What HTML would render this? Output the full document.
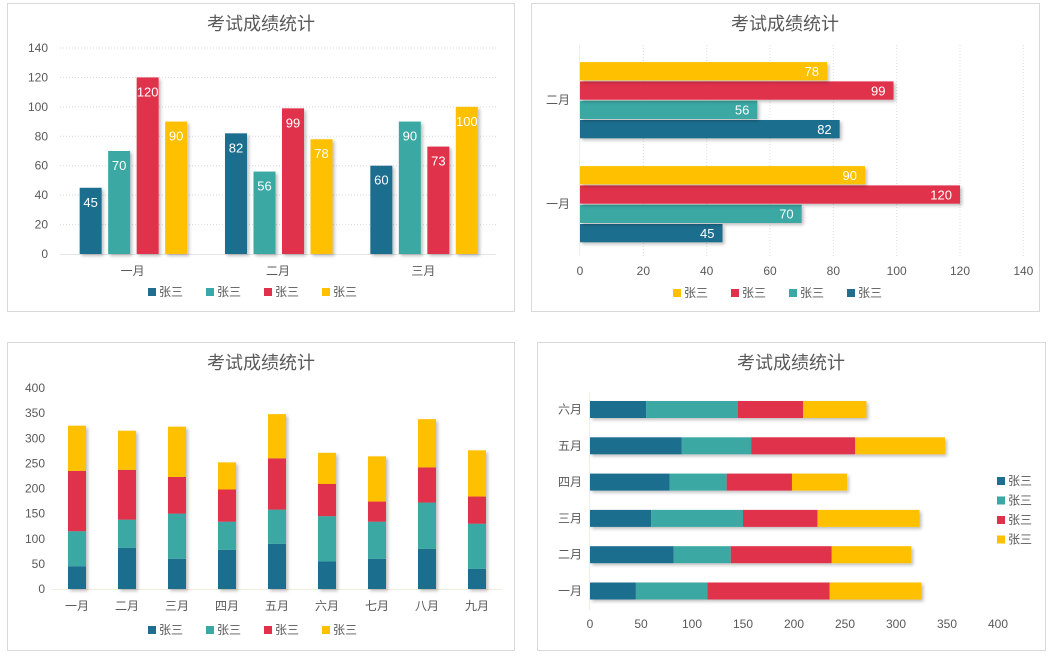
<!DOCTYPE html>
<html><head><meta charset="utf-8">
<style>
body{margin:0;width:1049px;height:658px;background:#fff;font-family:"Liberation Sans","Noto Sans CJK SC",sans-serif;overflow:hidden}
svg{position:absolute;left:0;top:0}
text{font-family:"Liberation Sans","Noto Sans CJK SC",sans-serif}
</style></head><body>
<svg id="s" width="1049" height="658">
<defs>
<filter id="sh" x="-20%" y="-20%" width="150%" height="150%"><feDropShadow dx="2" dy="2" stdDeviation="1.5" flood-color="#000" flood-opacity="0.25"/></filter>
</defs>
</svg>
<script>
const colors=['#1f6e8f','#3aa8a4','#e0314b','#ffc000'];
const seriesNames=['张三','张三','张三','张三'];
const c1Cats=['一月','二月','三月'];
const c1S1=[45,82,60];
const c1S2=[70,56,90];
const c1S3=[120,99,73];
const c1S4=[90,78,100];
const c1Ticks=[0,20,40,60,80,100,120,140];
const c2Cats=['一月','二月'];
const c2S1=[45,82];
const c2S2=[70,56];
const c2S3=[120,99];
const c2S4=[90,78];
const c2Ticks=[0,20,40,60,80,100,120,140];
const c3Cats=['一月','二月','三月','四月','五月','六月','七月','八月','九月'];
const c3S1=[45,82,60,78,90,55,60,80,40];
const c3S2=[70,56,90,56,68,90,74,92,90];
const c3S3=[120,99,73,64,102,64,40,70,54];
const c3S4=[90,78,100,54,88,62,90,96,92];
const c3Ticks=[0,50,100,150,200,250,300,350,400];
const c4Cats=['一月','二月','三月','四月','五月','六月'];
const c4S1=[45,82,60,78,90,55];
const c4S2=[70,56,90,56,68,90];
const c4S3=[120,99,73,64,102,64];
const c4S4=[90,78,100,54,88,62];
const c4Ticks=[0,50,100,150,200,250,300,350,400];

const S=document.getElementById('s');
const NS='http://www.w3.org/2000/svg';
function mk(t,a,p){const e=document.createElementNS(NS,t);for(const k in a)e.setAttribute(k,a[k]);(p||S).appendChild(e);return e;}
function txt(x,y,s,a,p){const e=mk('text',Object.assign({x:x,y:y,'font-size':12,fill:'#595959'},a),p);e.textContent=s;return e;}
function panel(x,y,w,h,name,title,tx,ty){
  const g=mk('g',{});
  
  
  const r=mk('rect',{x:x+.5,y:y+.5,width:w,height:h,fill:'#fff',stroke:'#d9d9d9'},g);
  
  
  const t=txt(tx,ty,title,{'font-size':18,'text-anchor':'middle',fill:'#595959'},g);
  
  
  return g;
}
function legendH(g,cx,y,order){
  const w=58,x0=cx-w*order.length/2;
  order.forEach((si,i)=>{
    const lg=mk('g',{},g);
    
    
    mk('rect',{x:x0+i*w+4,y:y-8,width:8,height:8,fill:colors[si]},lg);
    txt(x0+i*w+15,y,seriesNames[si],{},lg);
  });
}
// Chart 1
(function(){
  const g=panel(7,3,507,308,'chart-monthly-scores-columns','考试成绩统计',261,30);
  const y0=254,k=(254-48)/140,x0=60,x1=496;
  const Y=v=>y0-v*k;
  c1Ticks.forEach(t=>{
    if(t>0){const l=mk('line',{x1:x0,x2:x1,y1:Y(t),y2:Y(t),stroke:'#d9d9d9','stroke-dasharray':'1,2'},g);}
    const tl=txt(48,Y(t)+4,t,{'text-anchor':'end'},g);
    
    
  });
  mk('line',{x1:x0,x2:x1,y1:y0+.5,y2:y0+.5,stroke:'#e5e5e5'},g);
  const data=[c1S1,c1S2,c1S3,c1S4];
  const bw=(x1-x0)/c1Cats.length;
  c1Cats.forEach((c,i)=>{
    const cx=x0+bw*(i+.5);
    const cl=txt(cx,275,c,{'text-anchor':'middle'},g);
    
    
    data.forEach((s,j)=>{
      const bx=cx-53+j*28.5, h=s[i]*k;
      const b=mk('rect',{x:bx,y:Y(s[i]),width:22,height:h,fill:colors[j],filter:'url(#sh)'},g);
      
      
      txt(bx+11,Y(s[i])+19,s[i],{'text-anchor':'middle',fill:'#fff','font-size':13},g);
    });
  });
  legendH(g,260,296,[0,1,2,3]);
})();
// Chart 2
(function(){
  const g=panel(531,3,508,308,'chart-monthly-scores-bars','考试成绩统计',785,30);
  const x0=580,k=(960-580)/120;
  const X=v=>x0+v*k;
  c2Ticks.forEach(t=>{
    if(t>0)mk('line',{x1:X(t),x2:X(t),y1:45,y2:256,stroke:'#dcdcdc','stroke-dasharray':'1,2'},g);
    const tl=txt(X(t),275,t,{'text-anchor':'middle'},g);
    
    
  });
  mk('line',{x1:x0-.5,x2:x0-.5,y1:45,y2:256,stroke:'#eee'},g);
  const data=[c2S1,c2S2,c2S3,c2S4];
  const cy=[204,100];
  c2Cats.forEach((c,i)=>{
    const cl=txt(570,cy[i]+4,c,{'text-anchor':'end'},g);
    
    
    data.forEach((s,j)=>{
      const by=cy[i]+20.5-j*19.3-.5;
      const b=mk('rect',{x:x0,y:by,width:s[i]*k,height:18.3,fill:colors[j],filter:'url(#sh)'},g);
      
      
      txt(X(s[i])-8,by+14,s[i],{'text-anchor':'end',fill:'#fff','font-size':13},g);
    });
  });
  legendH(g,785,297,[3,2,1,0]);
})();
// Chart 3
(function(){
  const g=panel(7,342,507,308,'chart-monthly-stacked-columns','考试成绩统计',261,369);
  const y0=589,k=(589-388)/400,x0=52,x1=502;
  const Y=v=>y0-v*k;
  c3Ticks.forEach(t=>{
    const tl=txt(45,Y(t)+4,t,{'text-anchor':'end'},g);
    
    
  });
  mk('line',{x1:x0,x2:x1,y1:y0+.5,y2:y0+.5,stroke:'#f2ede0'},g);
  const data=[c3S1,c3S2,c3S3,c3S4];
  c3Cats.forEach((c,i)=>{
    const cx=77+i*50;
    const cl=txt(cx,610,c,{'text-anchor':'middle'},g);
    
    
    let acc=0;
    const sg=mk('g',{filter:'url(#sh)'},g);
    data.forEach((s,j)=>{
      const b=mk('rect',{x:cx-9,y:Y(acc+s[i]),width:18,height:s[i]*k,fill:colors[j]},sg);
      
      
      acc+=s[i];
    });
  });
  legendH(g,260,634,[0,1,2,3]);
})();
// Chart 4
(function(){
  const g=panel(537,342,508,308,'chart-monthly-stacked-bars','考试成绩统计',791,369);
  const x0=590,k=(947-590)/350;
  const X=v=>x0+v*k;
  c4Ticks.forEach(t=>{
    const tl=txt(X(t),628,t,{'text-anchor':'middle'},g);
    
    
  });
  mk('line',{x1:x0-.5,x2:x0-.5,y1:392,y2:610,stroke:'#f2ede0'},g);
  const data=[c4S1,c4S2,c4S3,c4S4];
  c4Cats.forEach((c,i)=>{
    const cy=591-i*36.3;
    const cl=txt(582,cy+4,c,{'text-anchor':'end'},g);
    
    
    let acc=0;
    const sg=mk('g',{filter:'url(#sh)'},g);
    data.forEach((s,j)=>{
      const b=mk('rect',{x:X(acc),y:cy-8.5,width:s[i]*k,height:17,fill:colors[j]},sg);
      
      
      acc+=s[i];
    });
  });
  [0,1,2,3].forEach((si,i)=>{
    const lg=mk('g',{},g);
    
    
    const y=485+i*19.5;
    mk('rect',{x:997,y:y-8,width:8,height:8,fill:colors[si]},lg);
    txt(1008,y,seriesNames[si],{},lg);
  });
})();
</script>
</body></html>
